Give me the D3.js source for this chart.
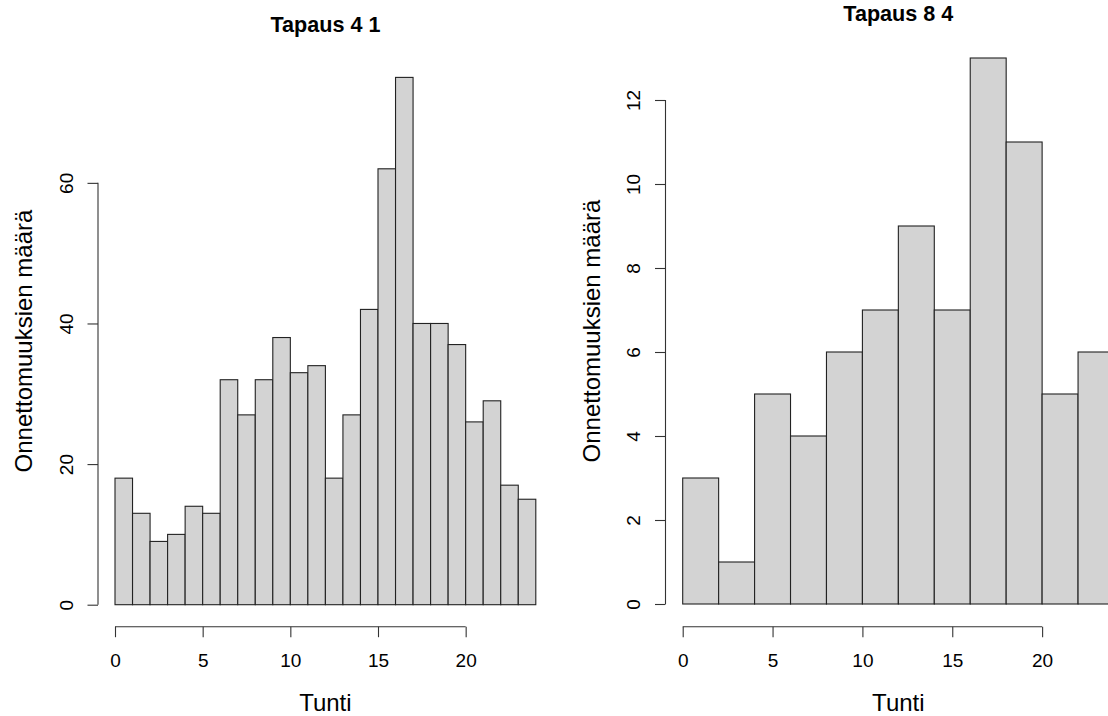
<!DOCTYPE html>
<html>
<head>
<meta charset="utf-8">
<script src="https://cdn.jsdelivr.net/npm/d3@7"></script>
<style>
  body { margin: 0; background: #fff; }
  text { font-family: "Liberation Sans", Arial, sans-serif; fill: #000; }
</style>
</head>
<body>
<svg id="chart" width="1108" height="716"></svg>
<script>
// Hourly accident counts, two cases
const breaksA = [0, 1, 2, 3, 4, 5, 6, 7, 8, 9, 10, 11, 12, 13, 14, 15, 16, 17, 18, 19, 20, 21, 22, 23, 24];
const countsA = [18, 13, 9, 10, 14, 13, 32, 27, 32, 38, 33, 34, 18, 27, 42, 62, 75, 40, 40, 37, 26, 29, 17, 15];
const breaksB = [0, 2, 4, 6, 8, 10, 12, 14, 16, 18, 20, 22, 24];
const countsB = [3, 1, 5, 4, 6, 7, 9, 7, 13, 11, 5, 6];
const xTicks = [0, 5, 10, 15, 20];
const yTicksA = [0, 20, 40, 60];
const yTicksB = [0, 2, 4, 6, 8, 10, 12];
const titles = ["Tapaus 4 1", "Tapaus 8 4"];
const xLabel = "Tunti";
const yLabel = "Onnettomuuksien määrä";

const svg = d3.select("#chart");
svg.append("rect").attr("width", 1108).attr("height", 716).attr("fill", "#fff");

const panels = [
  { breaks: breaksA, counts: countsA, yTicks: yTicksA, title: titles[0], yMax: 75,
    xRange: [115, 535.8], yRange: [604.7, 77.4], axisX: 98, axisY: 626.7,
    titleY: 32.3, yLabX: 31.5, yLabCenter: 341 },
  { breaks: breaksB, counts: countsB, yTicks: yTicksB, title: titles[1], yMax: 13,
    xRange: [682.7, 1114], yRange: [604, 58], axisX: 665.5, axisY: 626.7,
    titleY: 20.7, yLabX: 599.5, yLabCenter: 331 }
];

panels.forEach(p => {
  const x = d3.scaleLinear().domain([0, 24]).range(p.xRange);
  const y = d3.scaleLinear().domain([0, p.yMax]).range(p.yRange);
  const g = svg.append("g");

  // bars
  const bins = p.counts.map((c, i) => ({ x0: p.breaks[i], x1: p.breaks[i + 1], n: c }));
  g.selectAll("rect.bar").data(bins).enter().append("rect")
    .attr("class", "bar")
    .attr("x", d => x(d.x0))
    .attr("y", d => y(d.n))
    .attr("width", d => x(d.x1) - x(d.x0))
    .attr("height", d => y(0) - y(d.n))
    .attr("fill", "#d3d3d3")
    .attr("stroke", "#222")
    .attr("stroke-width", 1.1);

  // x axis
  const xAxis = g.append("g").attr("transform", `translate(0,${p.axisY})`)
    .call(d3.axisBottom(x).tickValues(xTicks).tickSize(10.5).tickPadding(6).tickSizeOuter(0));
  xAxis.select(".domain").remove();
  xAxis.append("line")
    .attr("x1", x(xTicks[0])).attr("x2", x(xTicks[xTicks.length - 1]))
    .attr("stroke", "#333").attr("stroke-width", 1.1);
  xAxis.selectAll(".tick line").attr("stroke", "#333").attr("stroke-width", 1.1);
  xAxis.selectAll(".tick text").attr("font-size", 19).attr("fill", "#000")
    .attr("font-family", "Liberation Sans, Arial, sans-serif")
    .attr("y", 40.3).attr("dy", null);

  // y axis
  const yAxis = g.append("g").attr("transform", `translate(${p.axisX},0)`)
    .call(d3.axisLeft(y).tickValues(p.yTicks).tickSize(10.5).tickSizeOuter(0));
  yAxis.select(".domain").remove();
  yAxis.append("line")
    .attr("y1", y(p.yTicks[0])).attr("y2", y(p.yTicks[p.yTicks.length - 1]))
    .attr("stroke", "#333").attr("stroke-width", 1.1);
  yAxis.selectAll(".tick line").attr("stroke", "#333").attr("stroke-width", 1.1);
  yAxis.selectAll(".tick text")
    .attr("font-size", 19).attr("fill", "#000")
    .attr("font-family", "Liberation Sans, Arial, sans-serif")
    .attr("x", null).attr("dy", null)
    .attr("text-anchor", "middle")
    .attr("transform", "translate(-25.5,0) rotate(-90)");

  // title
  const cx = x(12);
  g.append("text").attr("x", cx).attr("y", p.titleY)
    .attr("text-anchor", "middle").attr("font-size", 21.6).attr("font-weight", "bold")
    .text(p.title);

  // axis labels
  g.append("text").attr("x", cx).attr("y", 710.5)
    .attr("text-anchor", "middle").attr("font-size", 24)
    .text(xLabel);
  g.append("text")
    .attr("transform", `translate(${p.yLabX},${p.yLabCenter}) rotate(-90)`)
    .attr("text-anchor", "middle").attr("font-size", 24)
    .text(yLabel);
});
</script>
</body>
</html>
